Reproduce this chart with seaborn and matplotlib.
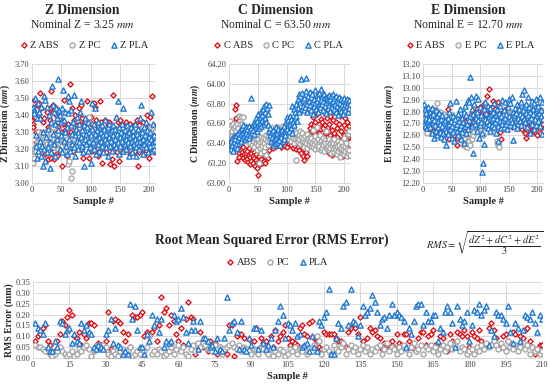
import numpy as np
import pandas as pd
import matplotlib
matplotlib.use("Agg")
import matplotlib.pyplot as plt
import seaborn as sns

sns.set_style("whitegrid")
plt.rcParams["font.family"] = ["Liberation Serif", "DejaVu Serif"]
plt.rcParams["mathtext.fontset"] = "stix"

# -------------------------------------------------------
# data (sample # = 1..210)
# -------------------------------------------------------

z_abs = [3.35, 3.33, 3.38, 3.49, 3.39, 3.24, 3.30, 3.46, 3.21, 3.28,
         3.40, 3.47, 3.30, 3.53, 3.26, 3.44, 3.20, 3.29, 3.36, 3.22,
         3.38, 3.25, 3.17, 3.30, 3.42, 3.27, 3.14, 3.33, 3.22, 3.37,
         3.44, 3.54, 3.15, 3.28, 3.46, 3.42, 3.19, 3.14, 3.32, 3.45,
         3.40, 3.24, 3.16, 3.36, 3.33, 3.28, 3.18, 3.37, 3.22, 3.30,
         3.10, 3.26, 3.35, 3.19, 3.49, 3.31, 3.24, 3.29, 3.16, 3.34,
         3.18, 3.35, 3.20, 3.27, 3.58, 3.22, 3.30, 3.44, 3.25, 3.19,
         3.37, 3.33, 3.28, 3.40, 3.21, 3.26, 3.34, 3.23, 3.30, 3.44,
         3.39, 3.35, 3.46, 3.20, 3.31, 3.38, 3.15, 3.29, 3.24, 3.36,
         3.30, 3.27, 3.33, 3.48, 3.26, 3.37, 3.33, 3.15, 3.22, 3.28,
         3.39, 3.35, 3.19, 3.27, 3.47, 3.21, 3.45, 3.25, 3.37, 3.18,
         3.29, 3.33, 3.16, 3.30, 3.26, 3.48, 3.36, 3.23, 3.31, 3.12,
         3.28, 3.20, 3.32, 3.25, 3.37, 3.18, 3.30, 3.27, 3.22, 3.34,
         3.36, 3.24, 3.11, 3.29, 3.31, 3.14, 3.20, 3.52, 3.27, 3.10,
         3.30, 3.26, 3.21, 3.32, 3.18, 3.28, 3.36, 3.24, 3.13, 3.29,
         3.37, 3.22, 3.31, 3.27, 3.19, 3.34, 3.26, 3.32, 3.23, 3.28,
         3.36, 3.30, 3.20, 3.33, 3.25, 3.29, 3.17, 3.35, 3.22, 3.31,
         3.30, 3.28, 3.24, 3.34, 3.21, 3.19, 3.32, 3.26, 3.30, 3.37,
         3.10, 3.34, 3.18, 3.29, 3.25, 3.32, 3.23, 3.28, 3.20, 3.36,
         3.33, 3.27, 3.17, 3.30, 3.35, 3.22, 3.40, 3.26, 3.15, 3.31,
         3.39, 3.28, 3.20, 3.33, 3.51, 3.24, 3.34, 3.18, 3.32, 3.33]

z_pc = [3.12, 3.16, 3.20, 3.15, 3.18, 3.22, 3.19, 3.24, 3.21, 3.30,
        3.23, 3.20, 3.26, 3.22, 3.25, 3.29, 3.21, 3.27, 3.24, 3.30,
        3.26, 3.22, 3.28, 3.25, 3.29, 3.23, 3.27, 3.21, 3.26, 3.28,
        3.24, 3.30, 3.27, 3.22, 3.25, 3.33, 3.21, 3.26, 3.23, 3.28,
        3.25, 3.22, 3.27, 3.20, 3.24, 3.29, 3.23, 3.26, 3.21, 3.25,
        3.28, 3.22, 3.25, 3.19, 3.24, 3.27, 3.23, 3.21, 3.18, 3.26,
        3.11, 3.21, 3.13, 3.25, 3.20, 3.27, 3.03, 3.07, 3.26, 3.21,
        3.24, 3.28, 3.22, 3.26, 3.23, 3.29, 3.25, 3.21, 3.27, 3.24,
        3.28, 3.23, 3.26, 3.30, 3.22, 3.27, 3.25, 3.29, 3.24, 3.31,
        3.26, 3.33, 3.27, 3.24, 3.30, 3.36, 3.28, 3.39, 3.25, 3.29,
        3.27, 3.31, 3.24, 3.28, 3.26, 3.30, 3.23, 3.27, 3.29, 3.25,
        3.28, 3.24, 3.30, 3.26, 3.22, 3.27, 3.29, 3.25, 3.31, 3.24,
        3.27, 3.23, 3.28, 3.26, 3.30, 3.24, 3.27, 3.22, 3.29, 3.25,
        3.28, 3.26, 3.24, 3.30, 3.27, 3.23, 3.29, 3.25, 3.28, 3.26,
        3.24, 3.29, 3.27, 3.31, 3.25, 3.28, 3.23, 3.27, 3.30, 3.26,
        3.29, 3.25, 3.28, 3.32, 3.26, 3.30, 3.24, 3.28, 3.27, 3.31,
        3.26, 3.29, 3.25, 3.28, 3.30, 3.27, 3.24, 3.29, 3.26, 3.31,
        3.28, 3.25, 3.30, 3.27, 3.29, 3.26, 3.32, 3.28, 3.25, 3.30,
        3.27, 3.29, 3.26, 3.31, 3.28, 3.25, 3.30, 3.27, 3.29, 3.33,
        3.26, 3.30, 3.28, 3.25, 3.31, 3.27, 3.29, 3.26, 3.32, 3.28,
        3.30, 3.27, 3.33, 3.29, 3.26, 3.31, 3.28, 3.30, 3.27, 3.30]

z_pla = [3.44, 3.45, 3.43, 3.41, 3.50, 3.28, 3.22, 3.15, 3.38, 3.47,
         3.19, 3.42, 3.25, 3.38, 3.16, 3.45, 3.22, 3.10, 3.30, 3.20,
         3.51, 3.13, 3.49, 3.27, 3.18, 3.45, 3.32, 3.21, 3.40, 3.24,
         3.09, 3.36, 3.18, 3.57, 3.46, 3.29, 3.42, 3.23, 3.35, 3.16,
         3.44, 3.26, 3.38, 3.61, 3.31, 3.43, 3.20, 3.40, 3.28, 3.36,
         3.18, 3.44, 3.55, 3.25, 3.37, 3.30, 3.42, 3.22, 3.33, 3.17,
         3.41, 3.51, 3.26, 3.48, 3.19, 3.34, 3.43, 3.23, 3.29, 3.36,
         3.21, 3.52, 3.28, 3.16, 3.32, 3.25, 3.39, 3.20, 3.30, 3.24,
         3.35, 3.42, 3.27, 3.48, 3.22, 3.31, 3.18, 3.10, 3.34, 3.26,
         3.38, 3.23, 3.29, 3.33, 3.19, 3.36, 3.25, 3.30, 3.21, 3.12,
         3.28, 3.32, 3.47, 3.24, 3.35, 3.20, 3.29, 3.44, 3.26, 3.17,
         3.31, 3.23, 3.36, 3.27, 3.19, 3.33, 3.25, 3.30, 3.22, 3.34,
         3.28, 3.18, 3.32, 3.26, 3.37, 3.21, 3.29, 3.24, 3.33, 3.16,
         3.27, 3.35, 3.22, 3.30, 3.25, 3.31, 3.19, 3.28, 3.34, 3.23,
         3.26, 3.32, 3.39, 3.21, 3.29, 3.48, 3.24, 3.17, 3.33, 3.27,
         3.22, 3.30, 3.25, 3.35, 3.19, 3.44, 3.28, 3.23, 3.31, 3.26,
         3.20, 3.29, 3.34, 3.24, 3.16, 3.30, 3.27, 3.22, 3.33, 3.25,
         3.18, 3.28, 3.31, 3.23, 3.26, 3.35, 3.21, 3.16, 3.29, 3.24,
         3.32, 3.20, 3.27, 3.25, 3.38, 3.46, 3.22, 3.30, 3.17, 3.26,
         3.33, 3.23, 3.28, 3.36, 3.21, 3.25, 3.31, 3.18, 3.27, 3.24,
         3.30, 3.22, 3.42, 3.26, 3.19, 3.35, 3.24, 3.28, 3.20, 3.25]

c_abs = [63.40, 63.45, 63.38, 63.42, 63.48, 63.36, 63.44, 63.50, 63.56, 63.62,
         63.75, 63.66, 63.79, 63.22, 63.35, 63.40, 63.30, 63.26, 63.42, 63.33,
         63.38, 63.28, 63.31, 63.25, 63.36, 63.29, 63.23, 63.33, 63.27, 63.30,
         63.24, 63.32, 63.21, 63.28, 63.35, 63.19, 63.26, 63.30, 63.22, 63.38,
         63.27, 63.20, 63.31, 63.25, 63.17, 63.29, 63.23, 63.34, 63.15, 63.21,
         63.08, 63.27, 63.19, 63.32, 63.24, 63.45, 63.20, 63.30, 63.41, 63.22,
         63.28, 63.20, 63.36, 63.26, 63.44, 63.31, 63.38, 63.25, 63.40, 63.33,
         63.45, 63.38, 63.42, 63.36, 63.48, 63.40, 63.35, 63.44, 63.39, 63.50,
         63.42, 63.37, 63.46, 63.40, 63.52, 63.38, 63.44, 63.41, 63.47, 63.36,
         63.43, 63.49, 63.39, 63.45, 63.41, 63.54, 63.37, 63.44, 63.48, 63.40,
         63.36, 63.46, 63.42, 63.39, 63.50, 63.44, 63.38, 63.47, 63.41, 63.45,
         63.35, 63.43, 63.40, 63.48, 63.37, 63.44, 63.34, 63.41, 63.46, 63.36,
         63.42, 63.33, 63.45, 63.38, 63.30, 63.43, 63.36, 63.27, 63.40, 63.34,
         63.23, 63.39, 63.44, 63.31, 63.27, 63.46, 63.38, 63.50, 63.42, 63.55,
         63.48, 63.60, 63.44, 63.52, 63.67, 63.46, 63.58, 63.40, 63.53, 63.62,
         63.45, 63.56, 63.70, 63.48, 63.36, 63.60, 63.50, 63.43, 63.65, 63.54,
         63.38, 63.62, 63.47, 63.55, 63.72, 63.44, 63.58, 63.35, 63.50, 63.66,
         63.42, 63.56, 63.30, 63.60, 63.48, 63.68, 63.40, 63.53, 63.28, 63.64,
         63.45, 63.72, 63.50, 63.38, 63.62, 63.80, 63.46, 63.55, 63.33, 63.76,
         63.60, 63.42, 63.68, 63.30, 63.52, 63.74, 63.45, 63.27, 63.58, 63.48,
         63.66, 63.38, 63.55, 63.44, 63.62, 63.35, 63.50, 63.46, 63.57, 63.48]

c_pc = [63.55, 63.63, 63.50, 63.58, 63.47, 63.52, 63.60, 63.45, 63.55, 63.49,
        63.57, 63.44, 63.52, 63.60, 63.48, 63.55, 63.68, 63.46, 63.59, 63.67,
        63.51, 63.60, 63.45, 63.54, 63.67, 63.49, 63.57, 63.43, 63.52, 63.48,
        63.55, 63.42, 63.50, 63.46, 63.53, 63.40, 63.48, 63.44, 63.51, 63.38,
        63.46, 63.42, 63.49, 63.36, 63.45, 63.40, 63.47, 63.33, 63.43, 63.38,
        63.44, 63.20, 63.41, 63.35, 63.46, 63.30, 63.42, 63.37, 63.45, 63.32,
        63.40, 63.44, 63.36, 63.48, 63.28, 63.42, 63.38, 63.46, 63.41, 63.50,
        63.44, 63.52, 63.47, 63.41, 63.55, 63.46, 63.50, 63.43, 63.53, 63.48,
        63.45, 63.51, 63.48, 63.56, 63.44, 63.52, 63.47, 63.54, 63.50, 63.46,
        63.53, 63.49, 63.57, 63.45, 63.51, 63.48, 63.55, 63.50, 63.58, 63.46,
        63.52, 63.48, 63.55, 63.44, 63.50, 63.47, 63.53, 63.42, 63.49, 63.51,
        63.45, 63.52, 63.40, 63.48, 63.44, 63.23, 63.50, 63.43, 63.47, 63.41,
        63.48, 63.44, 63.39, 63.52, 63.46, 63.42, 63.50, 63.38, 63.45, 63.41,
        63.36, 63.47, 63.43, 63.40, 63.49, 63.35, 63.44, 63.41, 63.38, 63.46,
        63.42, 63.37, 63.45, 63.40, 63.53, 63.36, 63.43, 63.39, 63.47, 63.34,
        63.41, 63.38, 63.56, 63.35, 63.44, 63.40, 63.37, 63.48, 63.33, 63.42,
        63.39, 63.35, 63.45, 63.38, 63.32, 63.43, 63.40, 63.36, 63.52, 63.34,
        63.41, 63.37, 63.33, 63.44, 63.39, 63.35, 63.30, 63.42, 63.38, 63.34,
        63.40, 63.31, 63.44, 63.36, 63.33, 63.39, 63.29, 63.37, 63.42, 63.32,
        63.38, 63.34, 63.26, 63.41, 63.35, 63.30, 63.37, 63.33, 63.45, 63.29,
        63.36, 63.32, 63.40, 63.27, 63.34, 63.49, 63.30, 63.52, 63.33, 63.28]

c_pla = [63.40, 63.36, 63.42, 63.34, 63.45, 63.38, 63.32, 63.41, 63.47, 63.37,
         63.44, 63.39, 63.48, 63.35, 63.43, 63.50, 63.40, 63.46, 63.53, 63.42,
         63.49, 63.55, 63.45, 63.51, 63.58, 63.47, 63.53, 63.44, 63.56, 63.50,
         63.46, 63.54, 63.49, 63.57, 63.45, 63.52, 63.48, 63.55, 63.86, 63.50,
         63.58, 63.53, 63.62, 63.49, 63.60, 63.56, 63.66, 63.52, 63.63, 63.58,
         63.70, 63.55, 63.67, 63.61, 63.73, 63.57, 63.69, 63.64, 63.75, 63.60,
         63.78, 63.66, 63.72, 63.80, 63.62, 63.76, 63.70, 63.58, 63.79, 63.52,
         63.48, 63.55, 63.42, 63.51, 63.46, 63.38, 63.53, 63.44, 63.49, 63.40,
         63.56, 63.45, 63.50, 63.41, 63.54, 63.47, 63.43, 63.52, 63.38, 63.49,
         63.46, 63.53, 63.42, 63.50, 63.57, 63.44, 63.51, 63.48, 63.62, 63.54,
         63.67, 63.58, 63.64, 63.52, 63.68, 63.60, 63.55, 63.65, 63.50, 63.78,
         63.62, 63.75, 63.58, 63.66, 63.72, 63.80, 63.68, 63.63, 63.85, 63.76,
         63.90, 63.72, 63.82, 63.88, 64.05, 63.75, 63.91, 63.78, 63.84, 63.74,
         63.86, 63.77, 63.93, 64.06, 63.80, 63.72, 63.88, 63.83, 63.76, 63.92,
         63.79, 63.87, 63.74, 63.90, 63.82, 63.70, 63.85, 63.78, 63.94, 63.81,
         63.75, 63.89, 63.83, 63.72, 63.86, 63.79, 63.91, 63.77, 63.84, 63.95,
         63.80, 63.88, 63.74, 63.83, 63.90, 63.78, 63.86, 63.71, 63.82, 63.87,
         63.76, 63.84, 63.89, 63.79, 63.85, 63.73, 63.88, 63.81, 63.77, 63.90,
         63.83, 63.75, 63.86, 63.80, 63.72, 63.88, 63.78, 63.84, 63.69, 63.82,
         63.87, 63.76, 63.81, 63.73, 63.85, 63.79, 63.70, 63.84, 63.77, 63.86,
         63.80, 63.74, 63.83, 63.78, 63.85, 63.72, 63.82, 63.76, 63.84, 63.80]

e_abs = [12.75, 12.70, 12.78, 12.68, 12.73, 12.65, 12.77, 12.71, 12.63, 12.74,
         12.69, 12.76, 12.62, 12.72, 12.67, 12.79, 12.70, 12.64, 12.75, 12.68,
         12.73, 12.66, 12.71, 12.62, 12.77, 12.69, 12.74, 12.65, 12.70, 12.76,
         12.67, 12.72, 12.63, 12.70, 12.68, 12.75, 12.61, 12.71, 12.66, 12.73,
         12.69, 12.64, 12.82, 12.70, 12.57, 12.74, 12.67, 12.72, 12.63, 12.69,
         12.75, 12.66, 12.71, 12.60, 12.73, 12.68, 12.64, 12.70, 12.58, 12.52,
         12.72, 12.67, 12.74, 12.61, 12.69, 12.65, 12.71, 12.59, 12.73, 12.66,
         12.70, 12.63, 12.75, 12.68, 12.60, 12.72, 12.66, 12.69, 12.74, 12.64,
         12.71, 12.76, 12.67, 12.73, 12.69, 12.78, 12.65, 12.72, 12.80, 12.70,
         12.75, 12.68, 12.77, 12.72, 12.82, 12.70, 12.76, 12.73, 12.84, 12.71,
         12.78, 12.74, 12.80, 12.69, 12.76, 12.86, 12.73, 12.79, 12.75, 12.85,
         12.81, 12.93, 12.77, 12.74, 12.83, 12.99, 12.78, 12.72, 12.80, 12.76,
         12.84, 12.89, 12.75, 12.79, 12.71, 12.82, 12.77, 12.73, 12.80, 12.75,
         12.78, 12.88, 12.72, 12.76, 12.63, 12.57, 12.74, 12.79, 12.70, 12.77,
         12.73, 12.80, 12.69, 12.75, 12.82, 12.71, 12.77, 12.74, 12.68, 12.76,
         12.72, 12.78, 12.70, 12.75, 12.67, 12.79, 12.73, 12.71, 12.76, 12.69,
         12.74, 12.70, 12.77, 12.66, 12.73, 12.71, 12.78, 12.68, 12.75, 12.72,
         12.69, 12.76, 12.65, 12.73, 12.70, 12.67, 12.74, 12.71, 12.62, 12.75,
         12.58, 12.72, 12.68, 12.74, 12.65, 12.71, 12.77, 12.63, 12.70, 12.67,
         12.73, 12.64, 12.69, 12.75, 12.66, 12.71, 12.62, 12.74, 12.68, 12.60,
         12.72, 12.67, 12.70, 12.65, 12.73, 12.67, 12.71, 12.69, 12.74, 12.70]

e_pc = [12.76, 12.72, 12.78, 12.74, 12.70, 12.77, 12.62, 12.75, 12.79, 12.73,
        12.71, 12.76, 12.80, 12.74, 12.78, 12.72, 12.82, 12.75, 12.77, 12.70,
        12.79, 12.74, 12.81, 12.76, 12.87, 12.73, 12.78, 12.75, 12.80, 12.72,
        12.77, 12.74, 12.70, 12.76, 12.72, 12.78, 12.69, 12.75, 12.71, 12.73,
        12.76, 12.70, 12.74, 12.68, 12.72, 12.75, 12.67, 12.73, 12.70, 12.77,
        12.71, 12.68, 12.74, 12.66, 12.72, 12.69, 12.64, 12.71, 12.67, 12.73,
        12.65, 12.70, 12.62, 12.68, 12.66, 12.60, 12.64, 12.58, 12.62, 12.55,
        12.52, 12.60, 12.51, 12.57, 12.54, 12.62, 12.50, 12.56, 12.53, 12.59,
        12.55, 12.61, 12.52, 12.58, 12.64, 12.57, 12.62, 12.60, 12.66, 12.63,
        12.68, 12.65, 12.70, 12.66, 12.72, 12.68, 12.64, 12.71, 12.67, 12.73,
        12.69, 12.66, 12.72, 12.68, 12.60, 12.70, 12.67, 12.73, 12.69, 12.71,
        12.66, 12.72, 12.68, 12.70, 12.74, 12.67, 12.71, 12.69, 12.73, 12.65,
        12.70, 12.68, 12.72, 12.66, 12.71, 12.69, 12.74, 12.67, 12.70, 12.55,
        12.72, 12.52, 12.50, 12.68, 12.73, 12.70, 12.75, 12.69, 12.72, 12.74,
        12.71, 12.76, 12.73, 12.70, 12.75, 12.72, 12.77, 12.74, 12.71, 12.76,
        12.73, 12.78, 12.75, 12.72, 12.77, 12.74, 12.79, 12.76, 12.73, 12.78,
        12.75, 12.80, 12.77, 12.74, 12.79, 12.76, 12.81, 12.78, 12.75, 12.80,
        12.77, 12.82, 12.79, 12.76, 12.81, 12.78, 12.83, 12.80, 12.77, 12.82,
        12.79, 12.76, 12.81, 12.78, 12.83, 12.80, 12.77, 12.82, 12.79, 12.76,
        12.81, 12.78, 12.75, 12.80, 12.77, 12.82, 12.79, 12.76, 12.81, 12.78,
        12.75, 12.80, 12.77, 12.74, 12.79, 12.76, 12.81, 12.78, 12.75, 12.77]

e_pla = [12.86, 12.70, 12.82, 12.68, 12.75, 12.79, 12.66, 12.72, 12.84, 12.69,
         12.74, 12.80, 12.67, 12.77, 12.83, 12.62, 12.71, 12.78, 12.58, 12.73,
         12.69, 12.81, 12.64, 12.76, 12.60, 12.72, 12.67, 12.79, 12.63, 12.70,
         12.74, 12.59, 12.68, 12.77, 12.62, 12.71, 12.57, 12.66, 12.73, 12.64,
         12.52, 12.69, 12.75, 12.61, 12.70, 12.80, 12.65, 12.87, 12.72, 12.58,
         12.68, 12.76, 12.63, 12.71, 12.55, 12.74, 12.67, 12.89, 12.70, 12.64,
         12.78, 12.60, 12.72, 12.66, 12.82, 12.69, 12.57, 12.75, 12.63, 12.71,
         12.80, 12.54, 12.68, 12.85, 12.62, 12.77, 12.70, 12.90, 12.65, 12.73,
         12.88, 13.09, 12.76, 12.92, 12.68, 12.82, 12.45, 12.78, 12.72, 12.86,
         12.70, 12.93, 12.75, 12.64, 12.80, 12.91, 12.73, 12.58, 12.84, 12.69,
         12.77, 12.71, 12.62, 12.29, 12.37, 12.82, 12.53, 12.74, 12.88, 12.68,
         12.79, 12.72, 12.85, 12.66, 12.76, 12.70, 12.83, 12.64, 12.78, 12.73,
         12.69, 12.80, 12.75, 12.67, 12.87, 12.71, 12.77, 12.62, 12.82, 12.74,
         12.55, 12.68, 12.79, 12.72, 12.85, 12.66, 12.76, 12.70, 12.90, 12.73,
         12.67, 12.81, 12.75, 12.88, 12.70, 12.78, 12.65, 12.84, 12.72, 12.91,
         12.76, 12.69, 12.87, 12.74, 12.92, 12.71, 12.80, 12.56, 12.77, 12.68,
         12.83, 12.73, 12.79, 12.66, 12.86, 12.75, 12.70, 12.82, 12.78, 12.72,
         12.88, 12.69, 12.76, 12.95, 12.81, 12.98, 12.74, 12.85, 12.71, 12.79,
         12.86, 12.67, 12.77, 12.92, 12.73, 12.84, 12.62, 12.80, 12.75, 12.89,
         12.70, 12.82, 12.78, 12.65, 12.87, 12.74, 12.91, 12.69, 12.83, 12.77,
         12.72, 12.85, 12.79, 12.92, 12.68, 12.81, 12.76, 12.88, 12.61, 12.74]

rms_abs = [0.08, 0.10, 0.11, 0.14, 0.15, 0.08, 0.06, 0.01, 0.03, 0.08,
           0.11, 0.17, 0.15, 0.19, 0.22, 0.20, 0.10, 0.09, 0.12, 0.06,
           0.11, 0.09, 0.16, 0.16, 0.15, 0.05, 0.07, 0.06, 0.05, 0.08,
           0.21, 0.04, 0.17, 0.18, 0.17, 0.16, 0.12, 0.08, 0.11, 0.05,
           0.20, 0.19, 0.19, 0.20, 0.21, 0.10, 0.12, 0.10, 0.12, 0.14,
           0.08, 0.15, 0.28, 0.21, 0.23, 0.15, 0.20, 0.17, 0.11, 0.08,
           0.14, 0.06, 0.18, 0.26, 0.19, 0.18, 0.02, 0.04, 0.12, 0.05,
           0.06, 0.03, 0.08, 0.04, 0.07, 0.02, 0.05, 0.04, 0.03, 0.02,
           0.15, 0.15, 0.01, 0.10, 0.11, 0.11, 0.09, 0.03, 0.04, 0.08,
           0.08, 0.14, 0.04, 0.09, 0.07, 0.08, 0.05, 0.10, 0.05, 0.13,
           0.08, 0.10, 0.12, 0.15, 0.09, 0.06, 0.08, 0.07, 0.06, 0.14,
           0.15, 0.11, 0.10, 0.16, 0.17, 0.09, 0.08, 0.05, 0.04, 0.12,
           0.11, 0.11, 0.11, 0.11, 0.09, 0.08, 0.08, 0.06, 0.05, 0.12,
           0.14, 0.16, 0.14, 0.11, 0.19, 0.08, 0.05, 0.09, 0.14, 0.12,
           0.13, 0.10, 0.09, 0.04, 0.07, 0.06, 0.07, 0.08, 0.05, 0.11,
           0.07, 0.06, 0.11, 0.11, 0.08, 0.05, 0.04, 0.03, 0.09, 0.12,
           0.12, 0.06, 0.10, 0.11, 0.13, 0.06, 0.05, 0.10, 0.09, 0.04,
           0.03, 0.11, 0.08, 0.07, 0.12, 0.11, 0.10, 0.13, 0.10, 0.05,
           0.12, 0.10, 0.09, 0.13, 0.08, 0.05, 0.06, 0.14, 0.16, 0.13,
           0.09, 0.05, 0.05, 0.10, 0.11, 0.08, 0.07, 0.12, 0.11, 0.06,
           0.10, 0.09, 0.13, 0.14, 0.08, 0.05, 0.02, 0.04, 0.06, 0.06]

rms_pc = [0.06, 0.05, 0.05, 0.04, 0.03, 0.04, 0.02, 0.01, 0.02, 0.03,
          0.05, 0.03, 0.02, 0.01, 0.02, 0.03, 0.01, 0.02, 0.04, 0.03,
          0.05, 0.06, 0.04, 0.01, 0.03, 0.05, 0.06, 0.04, 0.06, 0.05,
          0.02, 0.01, 0.03, 0.02, 0.01, 0.03, 0.04, 0.02, 0.03, 0.05,
          0.01, 0.02, 0.03, 0.02, 0.04, 0.03, 0.05, 0.10, 0.02, 0.03,
          0.02, 0.04, 0.03, 0.01, 0.02, 0.03, 0.05, 0.02, 0.04, 0.06,
          0.03, 0.05, 0.02, 0.01, 0.04, 0.06, 0.03, 0.07, 0.05, 0.07,
          0.06, 0.04, 0.05, 0.03, 0.06, 0.04, 0.05, 0.02, 0.04, 0.05,
          0.06, 0.07, 0.05, 0.04, 0.06, 0.03, 0.05, 0.04, 0.03, 0.02,
          0.04, 0.03, 0.02, 0.05, 0.04, 0.03, 0.02, 0.04, 0.01, 0.03,
          0.02, 0.04, 0.03, 0.01, 0.02, 0.04, 0.03, 0.05, 0.02, 0.04,
          0.03, 0.05, 0.02, 0.04, 0.03, 0.06, 0.10, 0.08, 0.02, 0.04,
          0.05, 0.03, 0.02, 0.06, 0.04, 0.03, 0.05, 0.07, 0.02, 0.04,
          0.06, 0.03, 0.05, 0.02, 0.04, 0.06, 0.03, 0.05, 0.02, 0.04,
          0.03, 0.05, 0.06, 0.02, 0.04, 0.07, 0.03, 0.05, 0.04, 0.02,
          0.05, 0.03, 0.06, 0.04, 0.02, 0.05, 0.07, 0.03, 0.04, 0.06,
          0.02, 0.05, 0.04, 0.06, 0.03, 0.05, 0.02, 0.04, 0.06, 0.03,
          0.05, 0.07, 0.04, 0.06, 0.08, 0.03, 0.05, 0.04, 0.02, 0.03,
          0.04, 0.02, 0.05, 0.03, 0.06, 0.04, 0.07, 0.05, 0.06, 0.08,
          0.06, 0.04, 0.07, 0.05, 0.03, 0.08, 0.05, 0.04, 0.06, 0.03,
          0.05, 0.07, 0.04, 0.06, 0.02, 0.05, 0.03, 0.04, 0.02, 0.03]

rms_pla = [0.16, 0.14, 0.13, 0.11, 0.16, 0.05, 0.03, 0.03, 0.08, 0.05,
           0.17, 0.16, 0.11, 0.13, 0.14, 0.07, 0.11, 0.08, 0.07, 0.16,
           0.13, 0.15, 0.12, 0.11, 0.05, 0.04, 0.06, 0.05, 0.04, 0.11,
           0.13, 0.18, 0.07, 0.14, 0.06, 0.05, 0.02, 0.03, 0.02, 0.25,
           0.18, 0.24, 0.13, 0.05, 0.05, 0.02, 0.11, 0.08, 0.20, 0.15,
           0.18, 0.12, 0.18, 0.05, 0.08, 0.07, 0.08, 0.20, 0.17, 0.18,
           0.23, 0.19, 0.12, 0.07, 0.13, 0.17, 0.13, 0.04, 0.17, 0.09,
           0.09, 0.08, 0.05, 0.06, 0.03, 0.09, 0.04, 0.03, 0.09, 0.28,
           0.13, 0.16, 0.17, 0.12, 0.04, 0.17, 0.04, 0.03, 0.09, 0.06,
           0.14, 0.14, 0.04, 0.13, 0.07, 0.04, 0.06, 0.09, 0.05, 0.13,
           0.17, 0.24, 0.20, 0.09, 0.16, 0.15, 0.13, 0.16, 0.10, 0.11,
           0.05, 0.06, 0.07, 0.03, 0.10, 0.05, 0.03, 0.17, 0.15, 0.19,
           0.21, 0.32, 0.02, 0.02, 0.09, 0.16, 0.14, 0.24, 0.26, 0.15,
           0.32, 0.17, 0.16, 0.10, 0.15, 0.24, 0.20, 0.21, 0.23, 0.29,
           0.26, 0.21, 0.15, 0.18, 0.19, 0.14, 0.20, 0.25, 0.20, 0.21,
           0.20, 0.19, 0.17, 0.05, 0.14, 0.11, 0.17, 0.24, 0.25, 0.25,
           0.15, 0.21, 0.17, 0.17, 0.20, 0.20, 0.08, 0.14, 0.12, 0.21,
           0.24, 0.21, 0.16, 0.05, 0.24, 0.18, 0.15, 0.17, 0.21, 0.08,
           0.15, 0.22, 0.21, 0.25, 0.20, 0.22, 0.24, 0.06, 0.13, 0.10,
           0.21, 0.20, 0.20, 0.18, 0.16, 0.24, 0.12, 0.07, 0.16, 0.14,
           0.08, 0.13, 0.20, 0.19, 0.18, 0.21, 0.16, 0.12, 0.20, 0.18]

materials = ["ABS", "PC", "PLA"]
colors    = {"ABS": "#e0141b", "PC": "#a6a6a6", "PLA": "#1f78d1"}
markers   = {"ABS": "D", "PC": "o", "PLA": "^"}
sizes     = {"ABS": 7, "PC": 13, "PLA": 14}

samples = np.arange(1, len(z_abs) + 1)


# -------------------------------------------------------
# helpers
# -------------------------------------------------------

def draw_series(ax, values, prefix):
    for mat, vals in zip(materials, values):
        sns.scatterplot(x=samples, y=vals, ax=ax, color=colors[mat],
                        marker=markers[mat], s=sizes[mat], facecolor="white",
                        edgecolor=colors[mat], linewidth=1.0,
                        label=f"{prefix}{mat}", zorder=3)


def style_axes(ax, xticks, yticks):
    ax.set_xlim(0, 210)
    ax.set_xticks(xticks)
    ax.set_ylim(yticks[0], yticks[-1])
    ax.set_yticks(yticks)
    ax.set_yticklabels([f"{v:.2f}" for v in yticks])
    ax.grid(True, color="#d9d9d9", linewidth=0.7)
    for sp in ax.spines.values():
        sp.set_visible(False)
    ax.spines["bottom"].set_visible(True)
    ax.spines["bottom"].set_color("#d9d9d9")
    ax.tick_params(labelsize=6, colors="#404040", length=0, pad=2)
    ax.set_xlabel("Sample #", fontsize=7.5, fontweight="bold", labelpad=2)


def add_legend(ax, x, y):
    ax.legend(loc="center", bbox_to_anchor=(x, y), ncol=3,
              frameon=False, fontsize=7.5, handletextpad=-0.2,
              columnspacing=0.5, borderaxespad=0, handlelength=1.6)


def place_ylabel(ax, text, right_px, left_px, width_px):
    # ylabel anchor is the right edge of the rotated text
    ax.set_ylabel(text, fontsize=7, fontweight="bold")
    ax.yaxis.set_label_coords((right_px - left_px) / width_px, 0.5)


fig = plt.figure(figsize=(5.5, 3.86), dpi=100)

# -------------------------------------------------------
# top row: Z / C / E dimensions
# -------------------------------------------------------

panels = [
    ("Z", [z_abs, z_pc, z_pla], np.round(np.arange(3.00, 3.71, 0.10), 2),
     32, 123, "3.25", 82, 12),
    ("C", [c_abs, c_pc, c_pla], np.round(np.arange(63.00, 64.21, 0.20), 2),
     229, 121, "63.50", 276, 202),
    ("E", [e_abs, e_pc, e_pla], np.round(np.arange(12.20, 13.21, 0.10), 2),
     423, 120, "12.70", 468, 396),
]

for name, vals, yt, left_px, width_px, nominal, cx_px, ylab_px in panels:
    ax = fig.add_axes([left_px / 550, 1 - 183 / 386, width_px / 550, 119 / 386])
    draw_series(ax, vals, f"{name} ")
    style_axes(ax, [0, 50, 100, 150, 200], yt)
    place_ylabel(ax, f"{name} Dimension ($\\mathbfit{{mm}}$)", ylab_px, left_px, width_px)
    add_legend(ax, (cx_px - left_px) / width_px, 1 + 19 / 119)
    fig.text(cx_px / 550, 1 - 11 / 386, f"{name} Dimension", ha="center",
             va="center", fontsize=9.8, fontweight="bold")
    fig.text(cx_px / 550, 1 - 25 / 386, f"Nominal {name} = {nominal} $\\mathit{{mm}}$",
             ha="center", va="center", fontsize=8.4)

# -------------------------------------------------------
# bottom: RMS error
# -------------------------------------------------------

ax = fig.add_axes([33 / 550, 1 - 358 / 386, 509 / 550, 76 / 386])
draw_series(ax, [rms_abs, rms_pc, rms_pla], "")
style_axes(ax, np.arange(0, 211, 15), np.round(np.arange(0, 0.351, 0.05), 2))
place_ylabel(ax, "RMS Error (mm)", 14, 33, 509)
add_legend(ax, (275 - 33) / 509, 1 + 20 / 76)

fig.text(272 / 550, 1 - 240 / 386, "Root Mean Squared Error (RMS Error)",
         ha="center", va="center", fontsize=9.8, fontweight="bold")
fig.text(485 / 550, 1 - 243 / 386, r"$RMS = \sqrt{\dfrac{dZ^2 + dC^2 + dE^2}{3}}$",
         ha="center", va="center", fontsize=7.5)

fig.savefig("out.png", dpi=100)
